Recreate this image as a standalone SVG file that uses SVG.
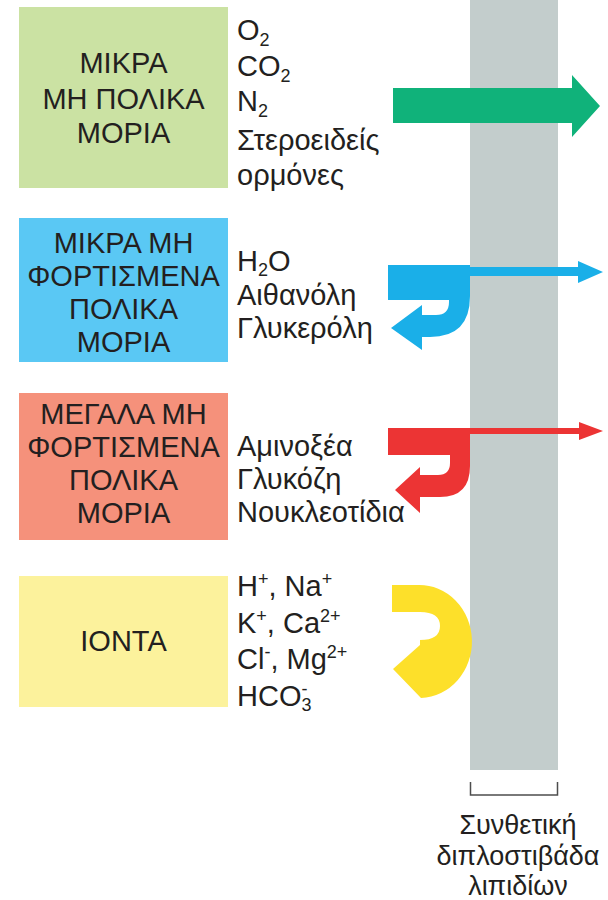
<svg xmlns="http://www.w3.org/2000/svg" width="608" height="900" viewBox="0 0 608 900">
  <style>
    text { font-family: "Liberation Sans", Arial, sans-serif; font-size: 29px; fill: #231f20; }
    .c { text-anchor: middle; }
    .s { font-size: 18px; }
    .cap { font-size: 27px; }
  </style>
  <rect width="608" height="900" fill="#ffffff"/>

  <!-- lipid bilayer -->
  <g id="bilayer">
    <rect x="470" y="0" width="88" height="770" fill="#c3cdcc"/>
    <path d="M470.5,782 V795 H557.5 V782" fill="none" stroke="#4d4d4d" stroke-width="1.5"/>
    <text class="c cap" x="518" y="834">Συνθετική</text>
    <text class="c cap" x="518" y="865">διπλοστιβάδα</text>
    <text class="c cap" x="518" y="895">λιπιδίων</text>
  </g>

  <g id="small-nonpolar">
    <rect x="19" y="7" width="209" height="181" fill="#cbe2a3"/>
    <text class="c" x="123.5" y="73">ΜΙΚΡΑ</text>
    <text class="c" x="123.5" y="109">ΜΗ ΠΟΛΙΚΑ</text>
    <text class="c" x="123.5" y="143">ΜΟΡΙΑ</text>
    <text x="237" y="40">O<tspan class="s" dy="6">2</tspan></text>
    <text x="237" y="76">CO<tspan class="s" dy="6">2</tspan></text>
    <text x="237" y="111">N<tspan class="s" dy="6">2</tspan></text>
    <text x="237" y="150">Στεροειδείς</text>
    <text x="237" y="185">ορμόνες</text>
  </g>

  <g id="small-uncharged-polar">
    <rect x="19" y="218" width="209" height="144" fill="#5ac8f4"/>
    <text class="c" x="123.5" y="253">ΜΙΚΡΑ ΜΗ</text>
    <text class="c" x="123.5" y="286">ΦΟΡΤΙΣΜΕΝΑ</text>
    <text class="c" x="123.5" y="319">ΠΟΛΙΚΑ</text>
    <text class="c" x="123.5" y="352">ΜΟΡΙΑ</text>
    <text x="237" y="271">H<tspan class="s" dy="5">2</tspan><tspan dy="-5">O</tspan></text>
    <text x="237" y="305">Αιθανόλη</text>
    <text x="237" y="338">Γλυκερόλη</text>
  </g>

  <g id="large-uncharged-polar">
    <rect x="19" y="393" width="209" height="147" fill="#f5917b"/>
    <text class="c" x="123.5" y="424">ΜΕΓΑΛΑ ΜΗ</text>
    <text class="c" x="123.5" y="457">ΦΟΡΤΙΣΜΕΝΑ</text>
    <text class="c" x="123.5" y="490">ΠΟΛΙΚΑ</text>
    <text class="c" x="123.5" y="523">ΜΟΡΙΑ</text>
    <text x="237" y="456">Αμινοξέα</text>
    <text x="237" y="489">Γλυκόζη</text>
    <text x="237" y="522">Νουκλεοτίδια</text>
  </g>

  <g id="ions">
    <rect x="19" y="576" width="209" height="131" fill="#fcf29c"/>
    <text class="c" x="123.5" y="651">ΙΟΝΤΑ</text>
    <text x="237" y="596">H<tspan class="s" dy="-11">+</tspan><tspan dy="11">, Na</tspan><tspan class="s" dy="-11">+</tspan></text>
    <text x="237" y="633">K<tspan class="s" dy="-11">+</tspan><tspan dy="11">, Ca</tspan><tspan class="s" dy="-11">2+</tspan></text>
    <text x="237" y="669">Cl<tspan class="s" dy="-11">-</tspan><tspan dy="11">, Mg</tspan><tspan class="s" dy="-11">2+</tspan></text>
    <text x="237" y="706">HCO<tspan class="s" dy="-11">-</tspan><tspan class="s" dx="-6" dy="16">3</tspan></text>
  </g>

  <!-- transport arrows -->
  <g id="connectors">
    <path d="M393,88 H572 V75 L600,106 L572,137 V123 H393 Z" fill="#10b27a"/>
    <path d="M388,265 H470 V296 Q470,337 430,337 H422 V350 L391,328 L422,305 V315 H436 Q449,315 449,302 V300 H388 Z" fill="#1aafe8"/>
    <path d="M470,267 H578 V261 L603,272 L578,283 V276 H470 Z" fill="#1aafe8"/>
    <path d="M388,428 H470 V466 Q470,497 440,497 H420 V513 L395,490 L420,467 V475 H438 Q450,475 450,463 V455 H388 Z" fill="#ec3434"/>
    <path d="M470,428 H579 V422 L603,431 L579,440 V434 H470 Z" fill="#ec3434"/>
    <path d="M392,585 H418 A52,56 0 0 1 421,698 L393,669 L420,645 V640 Q440,640 440,626 Q440,612 420,612 H392 Z" fill="#fde02a"/>
  </g>
</svg>
